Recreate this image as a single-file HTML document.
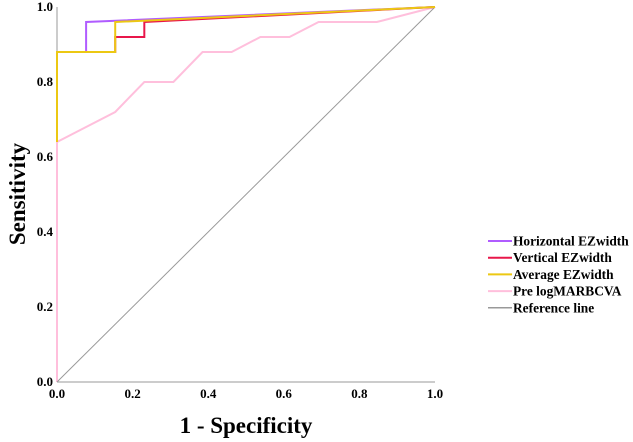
<!DOCTYPE html>
<html><head><meta charset="utf-8"><style>
body{margin:0;background:#fff}
svg{display:block;font-family:"Liberation Serif",serif;font-weight:bold}
</style></head><body>
<svg id="c" width="633" height="442"></svg>
<script>
const ticks=[0,0.2,0.4,0.6,0.8,1.0];
const tickLabels=["0.0","0.2","0.4","0.6","0.8","1.0"];
const seriesNames=["Pre logMARBCVA","Reference line","Horizontal EZwidth","Vertical EZwidth","Average EZwidth"];
const seriesColors=["#ffbfdc","#999999","#b05cff","#e8174a","#ecc813"];
const pinkX=[0,0,0.154,0.231,0.308,0.385,0.462,0.538,0.615,0.692,0.846,1];
const pinkY=[0,0.64,0.72,0.80,0.80,0.88,0.88,0.92,0.92,0.96,0.96,1];
const refX=[0,1];
const refY=[0,1];
const horX=[0,0.077,0.077,1];
const horY=[0.88,0.88,0.96,1];
const verX=[0,0.154,0.154,0.231,0.231,1];
const verY=[0.88,0.88,0.92,0.92,0.96,1];
const avgX=[0,0,0.154,0.154,1];
const avgY=[0.64,0.88,0.88,0.96,1];
const allX=[pinkX,refX,horX,verX,avgX];
const allY=[pinkY,refY,horY,verY,avgY];
const legendOrder=[2,3,4,0,1];

const NS="http://www.w3.org/2000/svg";
const svg=document.getElementById('c');
const X0=57,X1=435,Y0=382,Y1=7;
const sx=v=>X0+v*(X1-X0), sy=v=>Y0-v*(Y0-Y1);
function mk(t,a,p){const e=document.createElementNS(NS,t);for(const k in a)e.setAttribute(k,a[k]);(p||svg).appendChild(e);return e;}
let ax=mk('line',{x1:X0,y1:Y0,x2:X1,y2:Y0,stroke:'#999','stroke-width':1});


let ay=mk('line',{x1:X0,y1:Y0,x2:X0,y2:Y1,stroke:'#999','stroke-width':1});


ticks.forEach((t,i)=>{
  let a=mk('text',{x:sx(t),y:Y0+16,'font-size':13,'text-anchor':'middle'});a.textContent=tickLabels[i];
  
  
  let b=mk('text',{x:X0-4,y:sy(t)+4,'font-size':13,'text-anchor':'end'});b.textContent=tickLabels[i];
  
  
});
let xt=mk('text',{x:246,y:433,'font-size':23,'text-anchor':'middle'});xt.textContent='1 - Specificity';


let yt=mk('text',{x:0,y:0,'font-size':23,'text-anchor':'middle',transform:'translate(25,194) rotate(-90)'});yt.textContent='Sensitivity';


allX.forEach((xs,i)=>{
  const pts=xs.map((x,j)=>sx(x)+','+sy(allY[i][j])).join(' ');
  let p=mk('polyline',{points:pts,fill:'none',stroke:seriesColors[i],'stroke-width':i==1?1:2});
  
  
});
legendOrder.forEach((si,r)=>{
  const y=241+r*16.7;
  let l=mk('line',{x1:488,y1:y,x2:512,y2:y,stroke:seriesColors[si],'stroke-width':si==1?1.5:2});
  
  
  let t=mk('text',{x:513,y:y+4.5,'font-size':13.4});t.textContent=seriesNames[si];
  
  
});
</script>
</body></html>
